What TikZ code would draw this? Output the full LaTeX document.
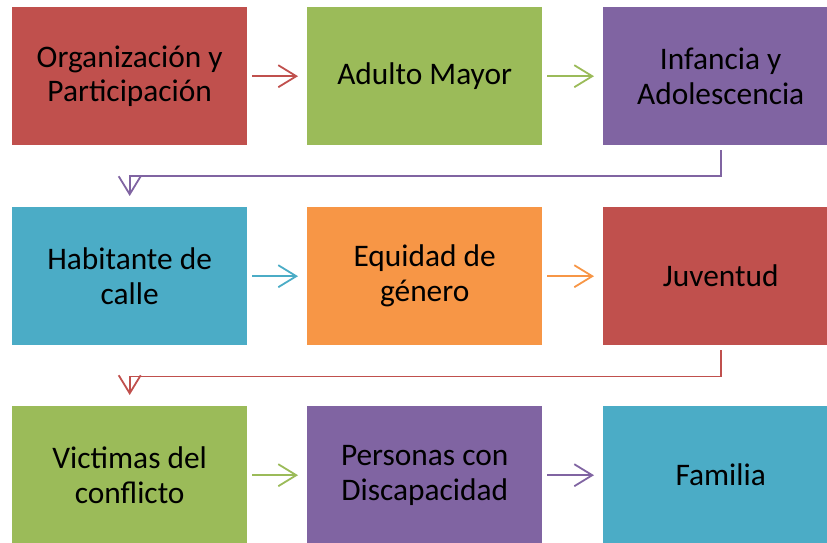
\documentclass[tikz,border=0pt]{standalone}
\usepackage{fontspec}
\setmainfont{Carlito}
\usetikzlibrary{arrows.meta}
\definecolor{cred}{HTML}{C0504D}
\definecolor{cgreen}{HTML}{9BBB59}
\definecolor{cpurple}{HTML}{8064A2}
\definecolor{cteal}{HTML}{4BACC6}
\definecolor{corange}{HTML}{F79646}
\begin{document}
\begin{tikzpicture}[x=1bp,y=-1bp,
  box/.style={minimum width=235bp,minimum height=138bp,inner sep=0pt,align=center,
    font=\fontsize{31.5}{35}\selectfont,text=black,anchor=north west},
  conn/.style={line width=1.8bp,-{Straight Barb[length=18bp,width=22bp,line width=1.8bp]}},
  hconn/.style={conn,shorten <=5bp,shorten >=9bp},
  vconn/.style={conn,shorten <=5bp,shorten >=11bp}]
\useasboundingbox (0,0) rectangle (827,543);
\clip (0,0) rectangle (827,543);
\node[box,fill=cred]    (a) at (12,7)   {Organización y\\Participación};
\node[box,fill=cgreen]  (b) at (307,7)  {Adulto Mayor};
\node[box,fill=cpurple] (c) at (603,7)  {Infancia y\\Adolescencia};
\node[box,fill=cteal]   (d) at (12,207) {Habitante de\\calle};
\node[box,fill=corange] (e) at (307,207){Equidad de\\género};
\node[box,fill=cred]    (f) at (603,207){Juventud};
\node[box,fill=cgreen]  (g) at (12,406) {Victimas del\\conflicto};
\node[box,fill=cpurple] (h) at (307,406){Personas con\\Discapacidad};
\node[box,fill=cteal]   (i) at (603,406){Familia};
\draw[hconn,cred] (a) -- (b);
\draw[hconn,cgreen] (b) -- (c);
\draw[vconn,cpurple] (c.south) -- ++(0,31) -| (d.north);
\draw[hconn,cteal] (d) -- (e);
\draw[hconn,corange] (e) -- (f);
\draw[vconn,cred] (f.south) -- ++(0,31) -| (g.north);
\draw[hconn,cgreen] (g) -- (h);
\draw[hconn,cpurple] (h) -- (i);
\end{tikzpicture}
\end{document}
